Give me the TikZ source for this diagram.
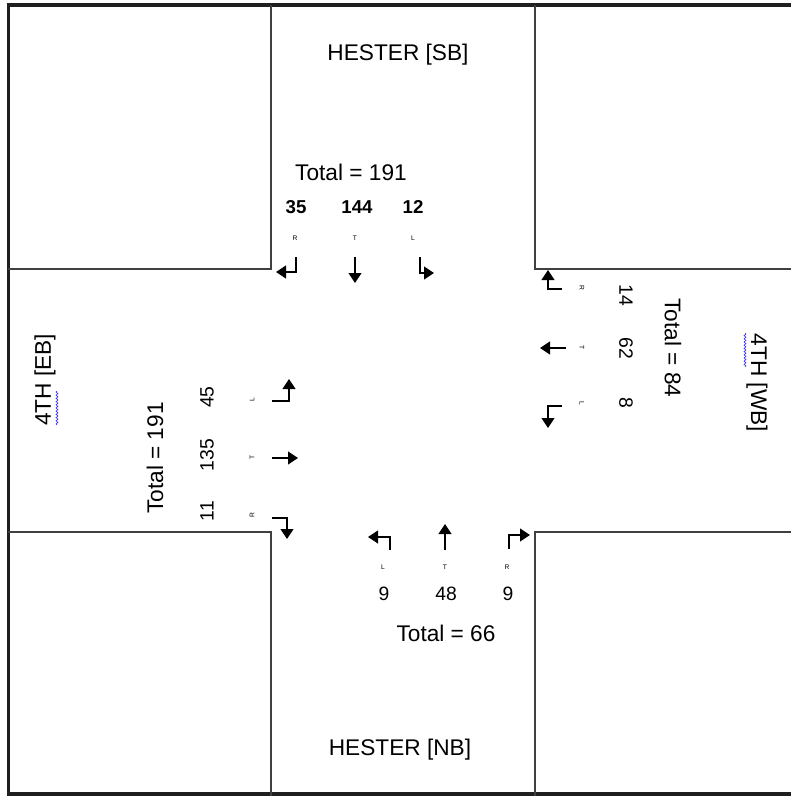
\documentclass[tikz,border=0pt]{standalone}
\usepackage{fontspec}
\setmainfont{Liberation Sans}
\usetikzlibrary{arrows.meta,decorations.pathmorphing}
\begin{document}
\begin{tikzpicture}[x=0.75pt,y=-0.75pt,
  big/.style={font=\fontsize{17}{20}\selectfont, inner sep=0pt},
  num/.style={font=\fontsize{14.5}{17}\selectfont, inner sep=0pt},
  bnum/.style={font=\fontsize{14}{17}\selectfont\bfseries, inner sep=0pt},
  tinyl/.style={font=\fontsize{5}{6}\selectfont, inner sep=0pt},
  block/.style={draw=black!75, line width=1.1pt},
  frame/.style={draw=black!88, line width=2.6pt},
  mv/.style={line width=1.6pt, -{Triangle[length=7.5pt,width=9.5pt]}},
  squig/.style={draw=blue!80, line width=0.5pt, decorate, decoration={snake, amplitude=0.7pt, segment length=2.4pt}},
]
\useasboundingbox (0,0) rectangle (790,796);
\fill[white] (0,0) rectangle (790,796);

% outer frame (right side runs off the picture)
\draw[frame] (800,5) -- (8.7,5) -- (8.7,794) -- (800,794);

% blocks
\draw[block] (271,5) -- (271,269) -- (8,269);
\draw[block] (535,5) -- (535,269) -- (800,269);
\draw[block] (8,532) -- (271,532) -- (271,796);
\draw[block] (800,532) -- (535,532) -- (535,796);

% street names
\node[big] (sbname) at (398,55) {HESTER [SB]};
\node[big] (nbname) at (400,750) {HESTER [NB]};
\node[big, rotate=90] (ebname) at (45,380) {4TH [EB]};
\node[big, rotate=-90] (wbname) at (757,383) {4TH [WB]};
\draw[squig] (57,425) -- (57,391);
\draw[squig] (745,333) -- (745,367);

% SB approach
\node[big] (sbtot) at (351,172) {Total = 191};
\node[bnum] (sbr) at (296,207) {35};
\node[bnum] (sbt) at (357,207) {144};
\node[bnum] (sbl) at (413,207) {12};
\node[tinyl] (sbrl) at (295,238) {R};
\node[tinyl] (sbtl) at (355,238) {T};
\node[tinyl] (sbll) at (413,238) {L};
\draw[mv] (296,257) -- (296,272) -- (276,272);
\draw[mv] (355,257) -- (355,283);
\draw[mv] (420,257) -- (420,273) -- (434,273);

% WB approach
\node[big, rotate=-90] (wbtot) at (673,348) {Total = 84};
\node[num, rotate=-90] (wbr) at (626,295) {14};
\node[num, rotate=-90] (wbt) at (626,348) {62};
\node[num, rotate=-90] (wbl) at (626,403) {8};
\node[tinyl, rotate=-90] (wbrl) at (582,288) {R};
\node[tinyl, rotate=-90] (wbtl) at (582,348) {T};
\node[tinyl, rotate=-90] (wbll) at (582,403) {L};
\draw[mv] (562,289) -- (548,289) -- (548,270);
\draw[mv] (566,348) -- (540,348);
\draw[mv] (562,406) -- (548,406) -- (548,428);

% EB approach
\node[big, rotate=90] (ebtot) at (155,458) {Total = 191};
\node[num, rotate=90] (ebl) at (207,397) {45};
\node[num, rotate=90] (ebt) at (207,455) {135};
\node[num, rotate=90] (ebr) at (207,511) {11};
\node[tinyl, rotate=90] (ebll) at (252,400) {L};
\node[tinyl, rotate=90] (ebtl) at (252,457) {T};
\node[tinyl, rotate=90] (ebrl) at (252,515) {R};
\draw[mv] (272,401) -- (289,401) -- (289,379);
\draw[mv] (272,458) -- (298,458);
\draw[mv] (272,518) -- (287,518) -- (287,539);

% NB approach
\node[big] (nbtot) at (446,633) {Total = 66};
\node[num] (nbl) at (384,594) {9};
\node[num] (nbt) at (446,594) {48};
\node[num] (nbr) at (508,594) {9};
\node[tinyl] (nbll) at (383,567) {L};
\node[tinyl] (nbtl) at (445,567) {T};
\node[tinyl] (nbrl) at (507,567) {R};
\draw[mv] (390,550) -- (390,537) -- (368,537);
\draw[mv] (445,550) -- (445,524);
\draw[mv] (509,549) -- (509,535) -- (530,535);
\end{tikzpicture}
\end{document}
